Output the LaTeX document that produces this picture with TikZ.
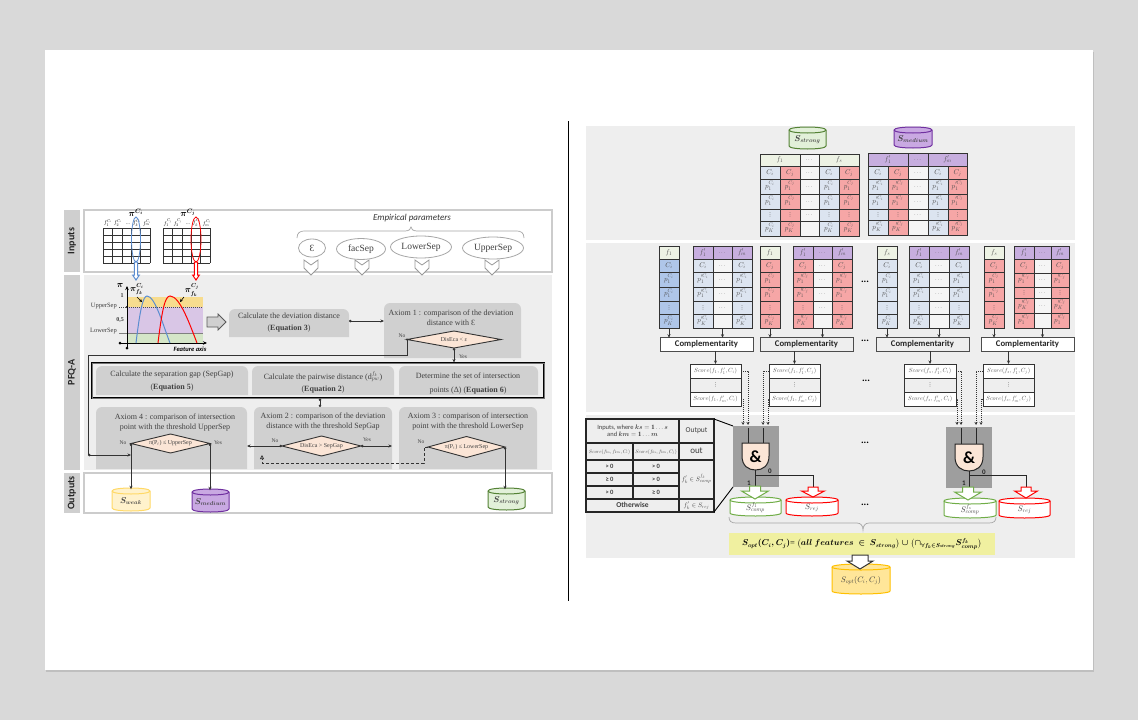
\documentclass[tikz,border=0pt]{standalone}
\usepackage{amsmath}
\usepackage{fontspec}
\setmainfont{Liberation Serif}
\newfontfamily\calib{Carlito}
\newfontfamily\djv{DejaVu Sans}
\usetikzlibrary{arrows.meta,shapes.geometric}
\DeclareFontShape{OML}{cmm}{m}{it}{<->cmmi10}{}
\DeclareFontShape{OML}{cmm}{b}{it}{<->cmmib10}{}
\DeclareFontShape{OMS}{cmsy}{m}{n}{<->cmsy10}{}
\DeclareFontShape{OMS}{cmsy}{b}{n}{<->cmbsy10}{}
\DeclareFontShape{OT1}{cmr}{m}{n}{<->cmr10}{}
\DeclareFontShape{OT1}{cmr}{bx}{n}{<->cmbx10}{}
\DeclareMathSizes{5}{5}{3.6}{3}
\DeclareMathSizes{5.5}{5.5}{4}{3}
\DeclareMathSizes{6}{6}{4.4}{3.4}
\DeclareMathSizes{6.5}{6.5}{4.8}{3.6}
\DeclareMathSizes{7}{7}{5.2}{4}
\DeclareMathSizes{8}{8}{5.8}{4.4}
\DeclareMathSizes{8.5}{8.5}{5.8}{4.4}
\DeclareMathSizes{9}{9}{6.4}{4.8}
\DeclareMathSizes{10}{10}{7}{5.2}
\definecolor{pagebg}{HTML}{D9D9D9}
\definecolor{panel}{HTML}{EEEEEE}
\definecolor{boxg}{HTML}{D0D0D0}
\definecolor{labg}{HTML}{CFCFCF}
\definecolor{edgeg}{HTML}{CCCCCC}
\definecolor{tx}{HTML}{404040}
\definecolor{cline}{HTML}{333333}
\definecolor{celltxt}{HTML}{505050}
\definecolor{headg}{HTML}{EDF2E4}
\definecolor{headp}{HTML}{C7AEDF}
\definecolor{bluedk}{HTML}{AFC6E9}
\definecolor{bluelt}{HTML}{DCE4F0}
\definecolor{redc}{HTML}{F6A6A6}
\definecolor{midc}{HTML}{F5F5F5}
\definecolor{peach}{HTML}{FBE5D6}
\definecolor{ygreen}{HTML}{F0F0A0}
\definecolor{wkfill}{HTML}{FFF2CC}
\definecolor{wkline}{HTML}{FFD966}
\definecolor{mdfill}{HTML}{C9A9E2}
\definecolor{mdline}{HTML}{7030A0}
\definecolor{stfill}{HTML}{E2F0D9}
\definecolor{stline}{HTML}{548235}
\definecolor{opfill}{HTML}{FFE699}
\definecolor{opline}{HTML}{FFC000}
\definecolor{grline}{HTML}{70AD47}
\definecolor{piblue}{HTML}{5B8DD0}
\definecolor{chy}{HTML}{F7DC8E}
\definecolor{chp}{HTML}{D9C6E6}
\definecolor{chg}{HTML}{D5E6C8}
\tikzset{
 cellst/.style={draw=cline,line width=0.9pt,inner sep=0pt,outer sep=0pt,text=celltxt,font=\fontsize{6}{7}\selectfont},
 txt/.style={align=center,text=tx,inner sep=0pt,font=\fontsize{8}{10}\selectfont},
 small/.style={text=tx,inner sep=0pt,font=\fontsize{5.5}{6}\selectfont},
 dia/.style={diamond,draw=cline,fill=peach,line width=0.9pt,inner sep=0pt,outer sep=0pt,text=tx,font=\fontsize{6}{7}\selectfont},
 param/.style={ellipse,draw=gray!70,fill=white,line width=0.8pt,inner sep=0pt,text=tx,font=\fontsize{9.5}{11}\selectfont},
 sidelab/.style={fill=labg,inner sep=0pt,rotate=90,text=black!85,font=\calib\bfseries\fontsize{10}{12}\selectfont},
 frameb/.style={draw=edgeg,line width=1.2pt,inner sep=0pt},
 conn/.style={draw=cline,line width=0.7pt,-{Stealth[length=3.5pt,width=3pt]}},
 dotconn/.style={conn,{Circle[length=2.6pt]}-{Stealth[length=3.5pt,width=3pt]}},
 plainl/.style={draw=cline,line width=0.7pt},
 gatel/.style={draw=black!85,line width=1pt},
 dotarrow/.style={draw=black!80,line width=0.7pt,dash pattern=on 1pt off 1pt,-{Stealth[length=3pt,width=3pt]}},
 hollow/.style={fill=white,line width=1pt,line join=miter},
 chev/.style={fill=white,draw=gray!80,line width=0.8pt},
 brc/.style={draw=gray!70,line width=0.7pt},
 dotsl/.style={inner sep=0pt,text=black,font=\calib\bfseries\fontsize{10}{10}\selectfont},
}
\newcommand{\bmat}[1]{{\boldmath$#1$}}
\newcommand{\cellbox}[7]{\node[cellst,fill=#6,minimum width={(#4-#2)*1pt},minimum height={(#5-#3)*1pt}] (#1) at ({(#2+#4)/2},{(#3+#5)/2}) {\raisebox{-1.6pt}[0pt][0pt]{\makebox[0pt][c]{#7}}};}
\newcommand{\setrows}[7]{\def\ya{#1}\def\yb{#2}\def\yc{#3}\def\yd{#4}\def\ye{#5}\def\yf{#6}\def\yg{#7}}
\newcommand{\setvals}[5]{\def\tva{#1}\def\tvb{#2}\def\tvc{#3}\def\tvd{#4}\def\tve{#5}}
\newcommand{\tbody}[4]{%
 \cellbox{#1-c}{#2}{\yb}{#3}{\yc}{#4}{\tva}
 \cellbox{#1-a}{#2}{\yc}{#3}{\yd}{#4}{\tvb}
 \cellbox{#1-b}{#2}{\yd}{#3}{\ye}{#4}{\tvc}
 \cellbox{#1-d}{#2}{\ye}{#3}{\yf}{#4}{\tvd}
 \cellbox{#1-k}{#2}{\yf}{#3}{\yg}{#4}{\tve}}
\newcommand{\vd}{{\djv\fontsize{5.5}{6}\selectfont ⋮}}
\newcommand{\mdots}{$\cdots$}
\newcommand{\cm}[1]{{\fontsize{7}{8}\selectfont$#1$}}
\newcommand{\pOi}{\cm{p_1^{C_i}}}\newcommand{\pKi}{\cm{p_K^{C_i}}}
\newcommand{\pOj}{\cm{p_1^{C_j}}}\newcommand{\pKj}{\cm{p_K^{C_j}}}
\newcommand{\qOi}{\cm{p'^{C_i}_1}}\newcommand{\qKi}{\cm{p'^{C_i}_K}}
\newcommand{\qOj}{\cm{p'^{C_j}_1}}\newcommand{\qKj}{\cm{p'^{C_j}_K}}
\newcommand{\valCi}{\setvals{\cm{C_i}}{\pOi}{\pOi}{\vd}{\pKi}}
\newcommand{\valCj}{\setvals{\cm{C_j}}{\pOj}{\pOj}{\vd}{\pKj}}
\newcommand{\valQi}{\setvals{\cm{C_i}}{\qOi}{\qOi}{\vd}{\qKi}}
\newcommand{\valQj}{\setvals{\cm{C_j}}{\qOj}{\qOj}{\vd}{\qKj}}
\newcommand{\valM}{\setvals{\mdots}{\mdots}{\mdots}{\mdots}{}}
\newcommand{\cyl}[8]{%
 \draw[draw=#7,fill=#6,line width=1pt] (#2,#3+3) -- (#2,#5-3) .. controls (#2,#5+1) and (#4,#5+1) .. (#4,#5-3) -- (#4,#3+3) .. controls (#4,#3-1) and (#2,#3-1) .. (#2,#3+3) -- cycle;
 \draw[draw=#7,line width=1pt] (#2,#3+3) .. controls (#2,#3+7) and (#4,#3+7) .. (#4,#3+3);
 \node[inner sep=0pt,minimum width={(#4-#2)*1pt},minimum height={(#5-#3)*1pt},text=black!75,font=\fontsize{8.5}{10}\selectfont] (#1) at ({(#2+#4)/2},{(#3+#5)/2+1.5}) {{#8}};}
\newcommand{\rbox}[5]{%
 \fill[boxg] (#2,#5) [rounded corners=6pt] -- (#2,#3) -- (#4,#3) [sharp corners] -- (#4,#5) -- cycle;
 \node[inner sep=0pt,outer sep=0pt,minimum width={(#4-#2)*1pt},minimum height={(#5-#3)*1pt}] (#1) at ({(#2+#4)/2},{(#3+#5)/2}) {};}
\newcommand{\hollowdn}[7]{% cx ytop yneck ytip halfshaft halfhead colour
 \draw[hollow,draw=#7] (#1-#5,#2) -- (#1-#5,#3) -- (#1-#6,#3) -- (#1,#4) -- (#1+#6,#3) -- (#1+#5,#3) -- (#1+#5,#2) -- cycle;}
\newcommand{\chevron}[1]{\draw[chev] (#1-7,260) -- (#1,265) -- (#1+7,260) -- (#1+7,268) -- (#1,275) -- (#1-7,268) -- cycle;}
\newcommand{\gateshape}[5]{% name x0 x1 ytop ybot
 \pgfmathsetmacro\gm{(#2+#3)/2}
 \draw[draw=black!85,fill=peach,line width=1pt] (#2,#4) -- (#3,#4) -- (#3,#4+13) .. controls (#3,#5-4) and (\gm+7,#5) .. (\gm,#5) .. controls (\gm-7,#5) and (#2,#5-4) .. (#2,#4+13) -- cycle;
 \node[inner sep=0pt,minimum width={(#3-#2)*1pt},minimum height={(#5-#4)*1pt},font=\calib\bfseries\fontsize{17}{17}\selectfont] (#1) at ({(#2+#3)/2},{(#4+#5)/2}) {\&};}
\begin{document}
\begin{tikzpicture}[x=1pt,y=-1pt]
\useasboundingbox (0,0) rectangle (1138,720);
\fill[pagebg] (0,0) rectangle (1138,720);
\fill[black!25] (46,52) rectangle (1094,672);
\fill[white] (45,50) rectangle (1093,670);
\draw[black,line width=0.7pt] (568,121) -- (568,601);

%%% ---------- LEFT PART ----------
\node[sidelab,minimum width=62pt,minimum height=16pt] (labin) at (72,241) {Inputs};
\node[sidelab,minimum width=195pt,minimum height=16pt] (labpf) at (72,372.5) {PFQ-A};
\node[sidelab,minimum width=40pt,minimum height=16pt] (labout) at (72,493) {Outputs};
\draw[frameb,fill=white] (84,210) rectangle (552,272);
\fill[panel] (84,275) rectangle (552,470);
\draw[frameb,fill=white] (84,473) rectangle (552,513);

% mini tables
\foreach \xo in {103,163}{
 \foreach \k in {0,...,5}{\draw[black!80,line width=0.6pt] (\xo+\k*9.4,228) -- (\xo+\k*9.4,263);}
 \foreach \yy in {228,235,242,249,256,263}{\draw[black!80,line width=0.6pt] (\xo,\yy) -- (\xo+47,\yy);}
}
\foreach \xx/\tv in {108/{f_1^{C_i}},118/{f_2^{C_i}},137/{f_k^{C_i}},147/{f_m^{C_i}}}{
 \node[inner sep=0pt,font=\fontsize{5.5}{6}\selectfont] at (\xx,223) {$\tv$};}
\foreach \xx/\tv in {168/{f_1^{C_j}},178/{f_2^{C_j}},197/{f_k^{C_j}},207/{f_m^{C_j}}}{
 \node[inner sep=0pt,font=\fontsize{5.5}{6}\selectfont] at (\xx,223) {$\tv$};}
\node[small] at (128,224) {...};
\node[small] at (188,224) {...};
\node[inner sep=0pt,font=\fontsize{9}{10}\selectfont] (pii) at (136,213) {\bmat{\pi^{C_i}}};
\node[inner sep=0pt,font=\fontsize{9}{10}\selectfont] (pij) at (188,213) {\bmat{\pi^{C_j}}};
\node[ellipse,draw=piblue,line width=0.8pt,minimum width=9pt,minimum height=45pt,inner sep=0pt] (eli) at (136,239.5) {};
\node[ellipse,draw=red,line width=0.8pt,minimum width=10pt,minimum height=45pt,inner sep=0pt] (elj) at (196,239.5) {};
\hollowdn{136}{262}{275}{280}{1.6}{3.4}{piblue}
\hollowdn{196}{262}{275}{280}{1.6}{3.4}{red}

% empirical
\node[inner sep=0pt,text=black!80,font=\calib\itshape\fontsize{9}{11}\selectfont] (emp) at (412,218) {Empirical parameters};
\draw[brc] (297,238) .. controls (297,233) and (300,231) .. (304,231) -- (405,231) .. controls (409,231) and (411,229) .. (411,227) .. controls (411,229) and (413,231) .. (417,231) -- (517,231) .. controls (521,231) and (524,233) .. (524,238);
\node[param,minimum width=27pt,minimum height=18pt] (p1) at (312,248) {Ɛ};
\node[param,minimum width=49pt,minimum height=21pt] (p2) at (361,249) {facSep};
\node[param,minimum width=61pt,minimum height=22pt] (p3) at (421,247) {LowerSep};
\node[param,minimum width=61pt,minimum height=22pt] (p4) at (493,248) {UpperSep};
\chevron{311}\chevron{362}\chevron{422}\chevron{492}

% chart
\fill[chy] (127,297) rectangle (203,307);
\fill[chp] (127,307) rectangle (203,333);
\fill[chg] (127,333) rectangle (203,343);
\draw[black!70,line width=0.6pt,dash pattern=on 1pt off 1pt] (119,307) -- (203,307);
\draw[gray,line width=0.5pt] (119,333) -- (203,333);
\draw[black,line width=0.8pt,-{Stealth[length=4pt,width=3.5pt]}] (127,348) -- (127,286);
\draw[black,line width=0.8pt,-{Stealth[length=4pt,width=3.5pt]}] (119,343) -- (207,343);
\fill[black] (120,343) circle (1.5pt) (127,348) circle (1.5pt) (127,307) circle (1.2pt);
\draw[piblue,line width=1pt] (136,343) .. controls (140,310) and (143,296) .. (147,296) .. controls (155,296) and (163,325) .. (170,343);
\draw[red,line width=1pt] (158,343) .. controls (162,310) and (165,296) .. (170,296) .. controls (180,296) and (190,325) .. (197,343);
\draw[black,line width=0.6pt,-{Stealth[length=3pt,width=3pt]}] (137,297) -- (142,302);
\draw[black,line width=0.6pt,-{Stealth[length=3pt,width=3pt]}] (184,297) -- (180,302);
\node[inner sep=0pt,font=\fontsize{9}{10}\selectfont] at (120,285) {\bmat{\pi}};
\node[inner sep=0pt,font=\bfseries\fontsize{6}{7}\selectfont,text=tx] at (122,296) {1};
\node[inner sep=0pt,font=\bfseries\fontsize{6}{7}\selectfont,text=tx] at (120,320) {0,5};
\node[inner sep=0pt,anchor=east,font=\fontsize{6.5}{7}\selectfont,text=tx] at (117,306) {UpperSep};
\node[inner sep=0pt,anchor=east,font=\fontsize{6.5}{7}\selectfont,text=tx] at (117,331) {LowerSep};
\node[inner sep=0pt,font=\fontsize{8.5}{9}\selectfont] at (137,289) {\bmat{\pi^{C_i}_{f_k}}};
\node[inner sep=0pt,font=\fontsize{8.5}{9}\selectfont] at (192,290) {\bmat{\pi^{C_j}_{f_k}}};
\node[inner sep=0pt,font=\calib\bfseries\itshape\fontsize{6.5}{7}\selectfont] at (190,349) {Feature axis};
\draw[draw=black!65,fill=boxg,line width=0.8pt] (207,317) -- (218,317) -- (218,314) -- (226,322) -- (218,330) -- (218,327) -- (207,327) -- cycle;

% flow boxes
\rbox{dev}{229}{309}{349}{337}
\node[txt] (devt) at (289,323) {Calculate the deviation distance\\[2pt](\textbf{Equation 3})};
\rbox{ax1}{384}{303}{521}{358}
\node[txt] (ax1t) at (451,318) {Axiom 1 : comparison of the deviation\\distance with Ɛ};
\node[dia,minimum width=94pt,minimum height=17pt] (d1) at (454,339.5) {\makebox[0pt][c]{DisEca < ε}};
\node[small] at (402,336) {No};
\node[small] at (463,357) {Yes};
\draw[dotconn] ([yshift=2pt]dev.east) -- ([yshift=2pt]dev.east -| ax1.west);

\rbox{b1}{96}{366}{248}{395}
\node[txt] (b1t) at (172,381) {Calculate the separation gap (SepGap)\\[3pt](\textbf{Equation 5})};
\rbox{b2}{252}{366}{394}{395}
\node[txt] (b2t) at (323,382) {Calculate the pairwise distance ($\mathrm{d}^{f_k}_{pw}$)\\[2pt](\textbf{Equation 2})};
\rbox{b3}{399}{366}{538}{395}
\node[txt] (b3t) at (468,384) {Determine the set of intersection\\[4pt]points (Δ) (\textbf{Equation 6})};
\node[draw=black,line width=1pt,double=black!55,double distance=0.5pt,inner sep=0pt,minimum width=452pt,minimum height=35pt] (frame) at (318,380.5) {};

\rbox{ax4}{96}{407}{247}{469}
\node[txt] (ax4t) at (175,423) {Axiom 4 : comparison of intersection\\point with the threshold UpperSep};
\node[dia,minimum width=79pt,minimum height=19pt] (d4) at (170.5,443.5) {\makebox[0pt][c]{π(P$_t$) ≤ UpperSep}};
\rbox{ax2}{254}{407}{392}{469}
\node[txt] (ax2t) at (323,422) {Axiom 2 : comparison of the deviation\\distance with the threshold SepGap};
\node[dia,minimum width=79pt,minimum height=20pt] (d2) at (321.5,446) {\makebox[0pt][c]{DisEca > SepGap}};
\rbox{ax3}{399}{407}{537}{469}
\node[txt] (ax3t) at (468,422) {Axiom 3 : comparison of intersection\\point with the threshold LowerSep};
\node[dia,minimum width=77pt,minimum height=21pt] (d3) at (466.5,447) {\makebox[0pt][c]{π(P$_t$) ≤ LowerSep}};
\node[small] at (123,443) {No};
\node[small] at (218,443) {Yes};
\node[small] at (275,441) {No};
\node[small] at (367,440) {Yes};
\node[small] at (421,442) {No};

\coordinate (lna) at (88,355);
\coordinate (lnb) at (88,455);
\draw[plainl] (d1.west) -- (d1.west |- lna) -- (lna) -- (lnb);
\fill[cline] (d1.west) circle (1.2pt);
\draw[dotconn] (lnb) -- (lnb -| d4.west);
\draw[dotconn] (d1.south) -- (d1.south |- frame.north);
\draw[plainl,{Circle[length=2.6pt]}-{Circle[length=2.6pt]}] ([xshift=2pt]frame.south) -- ([xshift=2pt]frame.south |- ax2.north);
\cyl{weak}{112}{488}{150}{511}{wkfill}{wkline}{\bmat{S_{weak}}}
\cyl{med}{192}{489}{229}{512}{mdfill}{mdline}{\bmat{S_{medium}}}
\cyl{strong}{488}{488}{525}{510}{stfill}{stline}{\bmat{S_{strong}}}
\draw[dotconn] (d4.west) -- (d4.west |- weak.north);
\draw[dotconn] (d4.east) -- (d4.east |- med.north);
\draw[dotconn] (d2.west) -- (d2.west -| ax4.east);
\draw[dotconn] (d2.east) -- (d2.east -| ax2.east);
\draw[dotconn] (d3.east) -- (d3.east |- strong.north);
\coordinate (dsa) at (424,463);
\coordinate (dsb) at (262,463);
\coordinate (dsc) at (262,455);
\draw[draw=cline,line width=0.7pt,densely dashed,-{Triangle[open,length=4pt,width=4pt]}] (d3.west) -- (d3.west -| dsa) -- (dsa) -- (dsb) -- (dsc);

%%% ---------- RIGHT PART ----------
\fill[panel] (586,126) rectangle (1075,240);
\fill[panel] (586,243) rectangle (1075,412);
\fill[panel] (586,415) rectangle (1075,558);

\cyl{cs}{789}{127}{826}{149}{stfill}{stline}{\bmat{S_{strong}}}
\cyl{cm}{894}{127}{932}{148}{mdfill}{mdline}{\bmat{S_{medium}}}

% top tables
\setrows{154}{166}{179}{194}{209}{221}{236}
\cellbox{th1}{760}{154}{800}{166}{headg}{\cm{f_1}}
\cellbox{th2}{800}{154}{819}{166}{midc}{\mdots}
\cellbox{th3}{819}{154}{859}{166}{headg}{\cm{f_s}}
\valCi\tbody{ta}{760}{780}{bluelt}
\valCj\tbody{tb}{780}{800}{redc}
\valM\tbody{tc}{800}{819}{midc}
\valCi\tbody{td}{819}{839}{bluelt}
\valCj\tbody{te}{839}{859}{redc}
\setrows{153}{166}{179}{194}{209}{220}{235}
\cellbox{uh1}{868}{153}{908}{166}{headp}{\cm{f'_1}}
\cellbox{uh2}{908}{153}{928}{166}{headp}{\mdots}
\cellbox{uh3}{928}{153}{967}{166}{headp}{\cm{f'_m}}
\valQi\tbody{ua}{868}{888}{bluelt}
\valQj\tbody{ub}{888}{908}{redc}
\valM\tbody{uc}{908}{928}{midc}
\valQi\tbody{ud}{928}{948}{bluelt}
\valQj\tbody{ue}{948}{967}{redc}

% second row tables
\setrows{246}{259}{272}{287}{301}{314}{328}
\cellbox{g1h}{659}{246}{679}{259}{headg}{\cm{f_1}}
\valCi\tbody{g1}{659}{679}{bluedk}
\cellbox{m1a}{693}{246}{713}{259}{headp}{\cm{f'_1}}
\cellbox{m1b}{713}{246}{732}{259}{headp}{\mdots}
\cellbox{m1c}{732}{246}{752}{259}{headp}{\cm{f'_m}}
\valQi\tbody{h1}{693}{713}{bluelt}
\valM\tbody{i1}{713}{732}{midc}
\valQi\tbody{j1}{732}{752}{bluelt}

\cellbox{g2h}{760}{246}{780}{259}{headg}{\cm{f_1}}
\valCj\tbody{g2}{760}{780}{redc}
\cellbox{m2a}{793}{246}{813}{259}{headp}{\cm{f'_1}}
\cellbox{m2b}{813}{246}{832}{259}{headp}{\mdots}
\cellbox{m2c}{832}{246}{852}{259}{headp}{\cm{f'_m}}
\valQj\tbody{h2}{793}{813}{redc}
\valM\tbody{i2}{813}{832}{midc}
\valQj\tbody{j2}{832}{852}{redc}

\cellbox{g3h}{877}{246}{897}{259}{headg}{\cm{f_s}}
\valCi\tbody{g3}{877}{897}{bluelt}
\cellbox{m3a}{909}{246}{929}{259}{headp}{\cm{f'_1}}
\cellbox{m3b}{929}{246}{949}{259}{headp}{\mdots}
\cellbox{m3c}{949}{246}{969}{259}{headp}{\cm{f'_m}}
\valQi\tbody{h3}{909}{929}{bluelt}
\valM\tbody{i3}{929}{949}{midc}
\valQi\tbody{j3}{949}{969}{bluelt}

\cellbox{g4h}{984}{246}{1004}{259}{headg}{\cm{f_s}}
\valCj\tbody{g4}{984}{1004}{redc}
\setrows{246}{259}{273}{287}{298}{313}{328}
\cellbox{m4a}{1014}{246}{1034}{259}{headp}{\cm{f'_1}}
\cellbox{m4b}{1034}{246}{1051}{259}{headp}{\mdots}
\cellbox{m4c}{1051}{246}{1069}{259}{headp}{\cm{f'_m}}
\setvals{\cm{C_j}}{\qOj}{\vd}{\qKj}{\qOj}\tbody{h4}{1014}{1034}{redc}
\setvals{\mdots}{\mdots}{\mdots}{\mdots}{}\tbody{i4}{1034}{1051}{midc}
\setvals{\cm{C_j}}{\qOj}{\vd}{\qKj}{\qOj}\tbody{j4}{1051}{1069}{redc}

% complementarity
\tikzset{compl/.style={cellst,fill=panel,draw=black!70,text=black!85,font=\calib\bfseries\fontsize{8.7}{10}\selectfont}}
\node[compl,fill=white,minimum width=93pt,minimum height=13.5pt] (cp1) at (706.5,344.5) {Complementarity};
\node[compl,minimum width=93pt,minimum height=13.5pt] (cp2) at (806.5,344.5) {Complementarity};
\node[compl,minimum width=93pt,minimum height=13.5pt] (cp3) at (922.5,344.5) {Complementarity};
\node[compl,fill=white,minimum width=93pt,minimum height=13.5pt] (cp4) at (1027.5,344.5) {Complementarity};

% score tables
\cellbox{s1a}{690}{364}{741}{378}{white}{$Score(f_1,f'_1,C_i)$}
\cellbox{s1b}{690}{378}{741}{392}{panel}{\vd}
\cellbox{s1c}{690}{392}{741}{406}{white}{$Score(f_1,f'_m,C_i)$}
\cellbox{s2a}{769}{364}{820}{378}{white}{$Score(f_1,f'_1,C_j)$}
\cellbox{s2b}{769}{378}{820}{392}{panel}{\vd}
\cellbox{s2c}{769}{392}{820}{406}{white}{$Score(f_1,f'_m,C_j)$}
\cellbox{s3a}{904}{364}{956}{378}{white}{$Score(f_s,f'_1,C_i)$}
\cellbox{s3b}{904}{378}{956}{392}{panel}{\vd}
\cellbox{s3c}{904}{392}{956}{406}{white}{$Score(f_s,f'_m,C_i)$}
\cellbox{s4a}{983}{364}{1034}{378}{white}{$Score(f_s,f'_1,C_j)$}
\cellbox{s4b}{983}{378}{1034}{392}{panel}{\vd}
\cellbox{s4c}{983}{392}{1034}{406}{white}{$Score(f_s,f'_m,C_j)$}

\foreach \na/\nb in {g1-k/cp1,i1-k/cp1,g2-k/cp2,i2-k/cp2,g3-k/cp3,i3-k/cp3,g4-k/cp4,i4-k/cp4}{
 \draw[conn] (\na.south) -- (\na.south |- \nb.north);}
\foreach \na/\nb in {cp1/s1a,cp2/s2a,cp3/s3a,cp4/s4a}{
 \draw[conn] (\nb.north |- \na.south) -- (\nb.north);}

\node[dotsl] at (865,282) {...};
\node[dotsl] at (865,341) {...};
\node[dotsl] at (866,381) {...};
\node[dotsl] at (865,443) {...};
\node[dotsl] at (865,505) {...};

% gates
\fill[black!38] (733,426) rectangle (779,487);
\fill[black!38] (946,427) rectangle (992,488);
\coordinate (i1a) at (743,425); \coordinate (i1b) at (748,425);
\coordinate (i1c) at (763,425); \coordinate (i1d) at (768,425);
\coordinate (i2a) at (957,425); \coordinate (i2b) at (961,425);
\coordinate (i2c) at (976,425); \coordinate (i2d) at (981,425);
\draw[dotarrow] (s1c.east) -- (s1c.east -| i1a) -- (i1a);
\draw[dotarrow] (s1a.east) -- (s1a.east -| i1b) -- (i1b);
\draw[dotarrow] (s2a.west) -- (s2a.west -| i1c) -- (i1c);
\draw[dotarrow] (s2c.west) -- (s2c.west -| i1d) -- (i1d);
\draw[dotarrow] (s3c.east) -- (s3c.east -| i2a) -- (i2a);
\draw[dotarrow] (s3a.east) -- (s3a.east -| i2b) -- (i2b);
\draw[dotarrow] (s4a.west) -- (s4a.west -| i2c) -- (i2c);
\draw[dotarrow] (s4c.west) -- (s4c.west -| i2d) -- (i2d);

\gateshape{g1}{742}{769}{443}{470}
\gateshape{g2}{955}{983}{444}{471}
\coordinate (ga) at (748,428); \coordinate (gb) at (763,428);
\coordinate (gc) at (961,428); \coordinate (gd) at (976,428);
\draw[gatel] (ga) -- (ga |- g1.north);
\draw[gatel] (gb) -- (gb |- g1.north);
\draw[gatel] (gc) -- (gc |- g2.north);
\draw[gatel] (gd) -- (gd |- g2.north);
\cyl{cg1}{730}{497}{781}{516}{white}{grline}{\fontsize{8}{9}\selectfont$S^{f_1}_{comp}$}
\cyl{cr1}{786}{497}{838}{516}{white}{red}{\fontsize{8}{9}\selectfont$S_{rej}$}
\cyl{cg2}{944}{498}{996}{518}{white}{grline}{\fontsize{8}{9}\selectfont$S^{f_s}_{comp}$}
\cyl{cr2}{999}{498}{1050}{518}{white}{red}{\fontsize{8}{9}\selectfont$S_{rej}$}
\coordinate (yb) at (0,475);
\coordinate (br1a) at (g1.south |- yb); \coordinate (br1b) at (813,475); \coordinate (br1c) at (813,490);
\coordinate (br2a) at (g2.south |- yb); \coordinate (br2b) at (1026,475); \coordinate (br2c) at (1026,490);
\coordinate (ye1) at (0,487); \coordinate (ye2) at (0,488);
\draw[gatel] (g1.south) -- (g1.south |- ye1);
\draw[gatel] (br1a) -- (br1b) -- (br1c);
\draw[gatel] (g2.south) -- (g2.south |- ye2);
\draw[gatel] (br2a) -- (br2b) -- (br2c);
\hollowdn{755}{486}{491}{499}{5.5}{13.5}{grline}
\hollowdn{813}{487}{491}{497}{5}{11.5}{red}
\hollowdn{968}{487}{492}{500}{5.5}{13.5}{grline}
\hollowdn{1026}{487}{491}{498}{5}{11.5}{red}
\node[inner sep=0pt,font=\calib\bfseries\fontsize{7}{8}\selectfont,text=black!85] at (749,483) {1};
\node[inner sep=0pt,font=\calib\bfseries\fontsize{7}{8}\selectfont,text=black!85] at (770,471) {0};
\node[inner sep=0pt,font=\calib\bfseries\fontsize{7}{8}\selectfont,text=black!85] at (964,483) {1};
\node[inner sep=0pt,font=\calib\bfseries\fontsize{7}{8}\selectfont,text=black!85] at (984,472) {0};

% truth table
\begin{scope}[cellst/.append style={draw=black!85,line width=1.1pt,text=black!75,font=\calib\fontsize{6.5}{7.5}\selectfont}]
\node[cellst,minimum width=93pt,minimum height=24pt,align=center] (tt1) at (632.5,431) {Inputs, where $\boldsymbol{ks}=\mathbf{1}\dots\boldsymbol{s}$\\and $\boldsymbol{km}=\mathbf{1}\dots\boldsymbol{m}$};
\cellbox{tt2}{679}{419}{714}{443}{panel}{\fontsize{7.5}{8}\selectfont Output}
\cellbox{tt3}{586}{443}{633}{460}{panel}{\fontsize{5}{6}\selectfont$Score(f_{ks},f_{km},C_i)$}
\cellbox{tt4}{633}{443}{679}{460}{panel}{\fontsize{5}{6}\selectfont$Score(f_{ks},f_{km},C_j)$}
\cellbox{tt5}{679}{443}{714}{460}{panel}{\fontsize{9}{10}\selectfont out}
\cellbox{tt6}{586}{460}{633}{473}{panel}{\bfseries > 0}
\cellbox{tt7}{633}{460}{679}{473}{panel}{\bfseries > 0}
\cellbox{tt8}{586}{473}{633}{486}{panel}{\bfseries ≥ 0}
\cellbox{tt9}{633}{473}{679}{486}{panel}{\bfseries > 0}
\cellbox{tt10}{586}{486}{633}{499}{panel}{\bfseries > 0}
\cellbox{tt11}{633}{486}{679}{499}{panel}{\bfseries ≥ 0}
\cellbox{tt12}{679}{460}{714}{499}{panel}{\fontsize{6.5}{7}\selectfont$f'_k\in S^{f_k}_{comp}$}
\cellbox{tt13}{586}{499}{679}{512}{panel}{\bfseries\fontsize{7.5}{8}\selectfont Otherwise}
\cellbox{tt14}{679}{499}{714}{512}{panel}{\fontsize{6.5}{7}\selectfont$f'_k\in S_{rej}$}
\end{scope}
\coordinate (gsa) at (733,426); \coordinate (gsb) at (733,487);
\draw[black,line width=0.9pt] (tt2.north east) -- (gsa);
\draw[black,line width=0.9pt] (tt14.south east) -- (gsb);

% formula
\draw[brc] (729,517) .. controls (729,521) and (731,523) .. (736,523) -- (857,523) .. controls (861,523) and (863,526) .. (863,530) .. controls (863,526) and (865,523) .. (869,523) -- (989,523) .. controls (994,523) and (996,521) .. (996,517);
\node[fill=ygreen,inner sep=0pt,minimum width=266pt,minimum height=22pt,font=\fontsize{8.5}{10}\selectfont] (form) at (862,544) {{\boldmath$S_{opt}(C_i,C_j)$= $\bigl(all\ features\ \in\ S_{strong}\bigr)\cup\bigl(\cap_{\forall f_k\in S_{strong}}S^{f_k}_{comp}\bigr)$}};
\cyl{copt}{832}{564}{890}{594}{opfill}{opline}{\fontsize{8}{9}\selectfont$S_{opt}(C_i,C_j)$}
\hollowdn{860}{555}{561}{569}{8}{13}{black!80}
\end{tikzpicture}
\end{document}
